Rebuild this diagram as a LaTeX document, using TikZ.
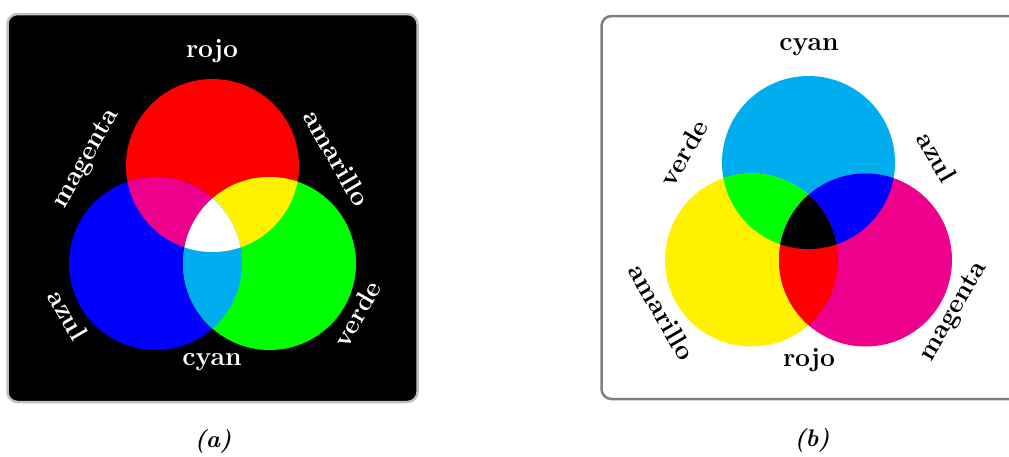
\documentclass[tikz,border=0pt]{standalone}
\definecolor{cR}{RGB}{255,0,0}
\definecolor{cG}{RGB}{0,255,0}
\definecolor{cB}{RGB}{0,0,255}
\definecolor{cC}{RGB}{0,174,239}
\definecolor{cM}{RGB}{236,0,140}
\definecolor{cY}{RGB}{255,241,0}
\definecolor{boxA}{RGB}{192,192,192}
\definecolor{boxB}{RGB}{128,128,128}
\begin{document}
\begin{tikzpicture}[x=1pt,y=-1pt,
  lbl/.style={font=\fontsize{26.5}{30}\selectfont\bfseries, inner sep=0pt},
  capt/.style={font=\fontsize{24}{28}\selectfont\bfseries\itshape, inner sep=0pt},
  panel/.style={line width=2.5pt, rounded corners=10pt}]
\useasboundingbox (0,0) rectangle (1009,456);
\def\rr{86.5pt}
% ---------- panel (a): additive ----------
\draw[panel, draw=boxA, fill=black] (7.5,14) rectangle (417.5,402);
\coordinate (aR) at (212.5,165.5);
\coordinate (aB) at (155.5,263.5);
\coordinate (aG) at (269.5,263.5);
\fill[cR] (aR) circle[radius=\rr];
\fill[cB] (aB) circle[radius=\rr];
\fill[cG] (aG) circle[radius=\rr];
\begin{scope}
  \clip (aR) circle[radius=\rr];
  \fill[cM] (aB) circle[radius=\rr];
  \fill[cY] (aG) circle[radius=\rr];
\end{scope}
\begin{scope}
  \clip (aB) circle[radius=\rr];
  \fill[cC] (aG) circle[radius=\rr];
\end{scope}
\begin{scope}
  \clip (aR) circle[radius=\rr];
  \clip (aB) circle[radius=\rr];
  \fill[white] (aG) circle[radius=\rr];
\end{scope}
\node[lbl, text=white] (aRojo) at (212,51) {rojo};
\node[lbl, text=white] (aCyan) at (212,362) {cyan};
\node[lbl, text=white, rotate=60] (aMag) at (86.5,159) {magenta};
\node[lbl, text=white, rotate=-60] (aAma) at (337,158) {amarillo};
\node[lbl, text=white, rotate=-60] (aAzul) at (68,315) {azul};
\node[lbl, text=white, rotate=60] (aVerde) at (357,314) {verde};
\node[capt] (capA) at (213,441) {(a)};
% ---------- panel (b): subtractive ----------
\begin{scope}
  \clip (0,0) rectangle (1009,456);
  \draw[panel, draw=boxB, fill=white] (601.5,16) rectangle (1040,399);
\end{scope}
\coordinate (bC) at (808.5,162.5);
\coordinate (bY) at (751.5,260);
\coordinate (bM) at (865.5,260);
\fill[cC] (bC) circle[radius=\rr];
\fill[cY] (bY) circle[radius=\rr];
\fill[cM] (bM) circle[radius=\rr];
\begin{scope}
  \clip (bC) circle[radius=\rr];
  \fill[cG] (bY) circle[radius=\rr];
  \fill[cB] (bM) circle[radius=\rr];
\end{scope}
\begin{scope}
  \clip (bY) circle[radius=\rr];
  \fill[cR] (bM) circle[radius=\rr];
\end{scope}
\begin{scope}
  \clip (bC) circle[radius=\rr];
  \clip (bY) circle[radius=\rr];
  \fill[black] (bM) circle[radius=\rr];
\end{scope}
\node[lbl] (bCyan) at (809,47) {cyan};
\node[lbl] (bRojo) at (809,360) {rojo};
\node[lbl, rotate=60] (bVerde) at (683.5,153) {verde};
\node[lbl, rotate=-60] (bAzul) at (937,157) {azul};
\node[lbl, rotate=-60] (bAma) at (662,312) {amarillo};
\node[lbl, rotate=60] (bMag) at (954,312) {magenta};
\node[capt] (capB) at (812,440) {(b)};
\end{tikzpicture}
\end{document}
